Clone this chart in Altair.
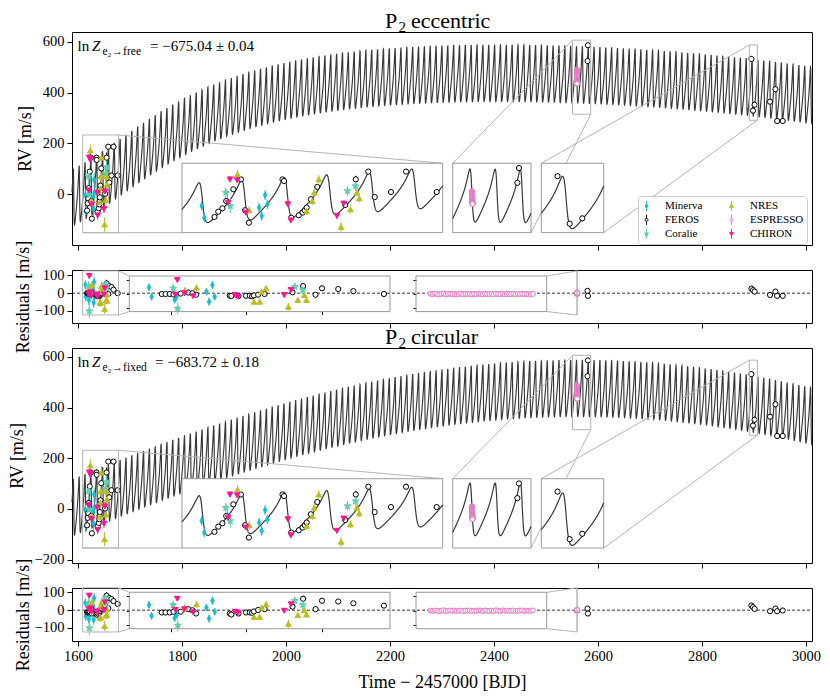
import numpy as np
import pandas as pd
import altair as alt

FONT = "Liberation Serif"

# ================= measurements (time = BJD - 2457000, m/s) =================
minerva_t = [1614.2, 1614.9, 1621.0, 1621.5, 1629.4, 1630.1, 1631.0, 1631.6]
minerva_rv = [-3, -68, 24, 8, -12, -58, 57, 6]
minerva_err = [26, 26, 28, 26, 26, 28, 28, 26]
minerva_res_ecc = [47, -19, -40, -20, 16, -54, 63, -19]
minerva_res_circ = [40, -35, -50, -30, 21, -54, 68, -7]

feros_t = [1617.6, 1618.6, 1619.7, 1620.7, 1622.6, 1624.6, 1625.7, 1626.7,
           1635.6, 1636.0, 1637.9, 1639.9, 1640.9, 1641.5, 1642.0, 1643.1,
           1644.8, 1652.2, 1655.0, 1658.3, 1660.0, 1664.3, 1668.3, 1676.4,
           2579.9, 2580.6, 2895.0, 2898.0, 2901.1, 2930.8, 2941.2, 2944.4, 2955.2]
feros_rv = [-64, -35, -16, 24, 89, 144, -27, -96,
            144, 135, -68, -55, -40, -27, -12, 34,
            102, 2, 144, 187, 46, 74, 187, 74,
            524, 586, 532, 329, 352, 364, 413, 288, 288]
feros_err = [6, 6, 6, 6, 6, 6, 6, 6,
             6, 6, 6, 6, 6, 6, 6, 6,
             6, 8, 20, 8, 10, 8, 8, 8,
             10, 10, 12, 12, 12, 10, 12, 10, 10]
feros_res_ecc = [0, 0, 0, -3, 3, 10, 5, -5,
                 -12, -14, -14, -12, -12, -16, -10, -5,
                 0, 12, 55, -5, 40, 35, 20, 0,
                 13, -15, 26, 17, 9, -10, 9, -15, -15]
feros_res_circ = [-12, -12, -12, -7, -7, 11, 3, -19,
                  -19, -26, -19, -12, -12, -14, -5, 5,
                  11, 28, 82, 11, 68, 63, 51, 35,
                  9, -19, 26, 17, 7, -6, 9, -6, -2]

coralie_t = [1620.6, 1621.8, 1652.8, 1654.9]
coralie_rv = [70, -3, 80, 107]
coralie_err = [28, 40, 28, 28]
coralie_res_ecc = [40, -101, 51, 28]
coralie_res_circ = [40, -101, 68, 40]

nres_t = [1623.7, 1626.8, 1642.0, 1643.5, 1644.0, 1645.2, 1651.1, 1653.6, 1655.3, 1655.9]
nres_rv = [172, -27, -31, 24, 71, 144, -119, -22, 71, 39]
nres_err = [24, 22, 22, 22, 22, 24, 28, 22, 22, 22]
nres_res_ecc = [25, 45, -54, -54, 16, 40, -89, -42, -7, -42]
nres_res_circ = [20, 44, -42, -42, 21, 44, -89, -30, 5, -26]

espresso_t = [2559.580, 2559.586, 2559.592, 2559.598, 2559.604, 2559.610, 2559.616, 2559.622, 2559.628, 2559.634,
              2559.640, 2559.646, 2559.652, 2559.658, 2559.664, 2559.670, 2559.676, 2559.682, 2559.688, 2559.694,
              2559.700, 2559.706, 2559.712, 2559.718, 2559.724, 2559.730, 2559.736, 2559.742, 2559.748, 2559.754,
              2559.760, 2559.766, 2559.772, 2559.778, 2559.784, 2559.790, 2559.796, 2559.802, 2559.808, 2559.814,
              2559.820, 2559.826, 2559.832, 2559.838, 2559.844, 2559.850, 2559.856, 2559.862]
espresso_rv = [489, 488, 487, 486, 485, 484, 483, 481, 480, 479,
               478, 477, 475, 474, 473, 472, 471, 469, 468, 467,
               466, 464, 463, 462, 461, 459, 458, 457, 456, 454,
               453, 452, 451, 449, 448, 447, 446, 444, 443, 442,
               441, 440, 439, 438, 437, 436, 436, 435]
espresso_res_ecc = [2, -1, 3, 0, -2, 1, 4, -3, 0, 2,
                    -1, 1, -4, 0, 3, -2, 1, 0, 2, -3,
                    1, -1, 3, 0, -2, 2, -1, 0, 1, -3,
                    2, 0, -1, 3, -2, 1, 0, -1, 2, -3,
                    1, 0, 2, -1, 1, -2, 0, 1]
espresso_res_circ = [1, -2, 2, 0, -3, 1, 3, -2, -1, 2,
                     0, 1, -3, -1, 2, -2, 1, 1, 2, -2,
                     0, -1, 2, 1, -3, 2, 0, -1, 1, -2,
                     3, 0, -2, 2, -1, 1, -1, 0, 2, -2,
                     0, 1, 2, -2, 1, -1, 0, 2]
ESPRESSO_ERR = 2.5

chiron_t = [1621.2, 1621.7, 1623.6, 1625.9, 1637.0, 1637.8, 1650.0, 1651.8]
chiron_rv = [15, 144, 139, -40, 6, -83, -58, 10]
chiron_err = [16, 16, 16, 16, 16, 16, 16, 16]
chiron_res_ecc = [-5, 98, 5, -15, -7, -19, -7, 28]
chiron_res_circ = [5, 82, 10, -10, -7, -14, 0, 44]

# ================= Keplerian model parameters =================
# inner planet
P1 = 11.252
K1 = 111.5
ECC1 = 0.50
OMEGA1_DEG = 70.0
T_MAX1 = 2558.7
# outer companion, eccentric solution
P2E, E2E, W2E, TP2E, K2E, C2E = 2220.0, 0.395, 3.5034, 3781.9, 264.50, 192.95
# outer companion, circular solution
P2C, C2C, A2C, B2C = 5239.0, -320.22, -775.78, 54.18


def solve_kepler(M, e):
    E = M + e * np.sin(M)
    for _ in range(60):
        E = E - (E - e * np.sin(E) - M) / (1.0 - e * np.cos(E))
    return E


def true_anom(t, P, e, tp):
    M = 2 * np.pi * (np.asarray(t, float) - tp) / P
    M = np.mod(M + np.pi, 2 * np.pi) - np.pi
    E = solve_kepler(M, e)
    return 2 * np.arctan2(np.sqrt(1 + e) * np.sin(E / 2), np.sqrt(1 - e) * np.cos(E / 2))


W1 = np.deg2rad(OMEGA1_DEG)
_Epk = 2 * np.arctan(np.sqrt((1 - ECC1) / (1 + ECC1)) * np.tan(-W1 / 2))
_Mpk = _Epk - ECC1 * np.sin(_Epk)
TP1 = T_MAX1 - _Mpk * P1 / (2 * np.pi)


def inner(t):
    nu = true_anom(t, P1, ECC1, TP1)
    return K1 * (np.cos(nu + W1) + ECC1 * np.cos(W1))


def model_ecc(t):
    nu = true_anom(t, P2E, E2E, TP2E)
    return C2E + K2E * np.cos(nu + W2E) + inner(t)


def model_circ(t):
    ph = 2 * np.pi * np.asarray(t, float) / P2C
    return C2C + A2C * np.cos(ph) + B2C * np.sin(ph) + inner(t)


# ================= styles =================
def star_path(r_in=0.42):
    pts = []
    for k in range(10):
        ang = -np.pi / 2 + k * np.pi / 5
        r = 1.0 if k % 2 == 0 else r_in
        pts.append((r * np.cos(ang), r * np.sin(ang)))
    return pts


def path_from(pts, s=1.0):
    return "M" + "L".join(f"{x * s:.3f},{y * s:.3f}" for x, y in pts) + "Z"


STAR = path_from(star_path())
DIAMOND = "M0,-1L0.55,0L0,1L-0.55,0Z"
BAR = "M0,-1L0,1"
CIRC_BAR = "M0,-1L0,-0.3M0,0.3L0,1M0.3,0A0.3,0.3,0,1,1,-0.3,0A0.3,0.3,0,1,1,0.3,0Z"
LEG = {
    "Minerva": BAR + "M0,-0.5L0.28,0L0,0.5L-0.28,0Z",
    "FEROS": CIRC_BAR,
    "Coralie": BAR + path_from(star_path(), 0.45),
    "NRES": BAR + "M0,-0.42L0.38,0.28L-0.38,0.28Z",
    "ESPRESSO": CIRC_BAR,
    "CHIRON": BAR + "M0,0.42L0.38,-0.28L-0.38,-0.28Z",
}
STYLE = {
    "Minerva": dict(color="#17becf", fill="#17becf", shape=DIAMOND, size=40),
    "FEROS": dict(color="#000000", fill="#ffffff", shape="circle", size=27),
    "Coralie": dict(color="#5fcfb0", fill="#5fcfb0", shape=STAR, size=50),
    "NRES": dict(color="#bcbd22", fill="#bcbd22", shape="triangle-up", size=32),
    "ESPRESSO": dict(color="#e377c2", fill="#ffffff", shape="circle", size=24),
    "CHIRON": dict(color="#ff1493", fill="#ff1493", shape="triangle-down", size=32),
}
DRAW_ORDER = ["Minerva", "FEROS", "Coralie", "NRES", "ESPRESSO", "CHIRON"]

SOURCES = {
    "Minerva": (minerva_t, minerva_rv, minerva_err, minerva_res_ecc, minerva_res_circ),
    "FEROS": (feros_t, feros_rv, feros_err, feros_res_ecc, feros_res_circ),
    "Coralie": (coralie_t, coralie_rv, coralie_err, coralie_res_ecc, coralie_res_circ),
    "NRES": (nres_t, nres_rv, nres_err, nres_res_ecc, nres_res_circ),
    "ESPRESSO": (espresso_t, espresso_rv, [ESPRESSO_ERR] * len(espresso_t), espresso_res_ecc, espresso_res_circ),
    "CHIRON": (chiron_t, chiron_rv, chiron_err, chiron_res_ecc, chiron_res_circ),
}
frames = []
for name in DRAW_ORDER:
    t, rv, er, re, rc = SOURCES[name]
    d = pd.DataFrame({"t": t, "rv": rv, "err": er, "res_e": re, "res_c": rc})
    d["inst"] = name
    for k, v in STYLE[name].items():
        d[k] = v
    frames.append(d)
OBS = pd.concat(frames, ignore_index=True)

# ================= geometry =================
W = 740
X_DOM = (1588.5, 3011.5)
XTICKS = [1600, 1800, 2000, 2200, 2400, 2600, 2800, 3000]
CURVE = "#383838"
BOXC = "#b4b4b4"
FRAMEC = "#999999"

RV1 = dict(dom=(-199.4, 638.0), H=213)
RV2 = dict(dom=(-213.0, 635.0), H=215)
RES1 = dict(dom=(-168.5, 131.0), H=53)
RES2 = dict(dom=(-174.0, 125.0), H=53)

RV1_INSETS = [
    dict(box=(1609.0, 1678.0, -151.0, 233.0), place=(1800.0, 2301.4, -150.9, 121.9), links=(("ur", "ur"), ("ll", "ll"))),
    dict(box=(2551.0, 2586.0, 315.0, 606.0), place=(2320.6, 2471.2, -150.9, 121.9), links=(("ul", "ul"), ("lr", "lr"))),
    dict(box=(2891.0, 2906.4, 291.0, 587.0), place=(2491.0, 2611.0, -150.9, 121.9), links=(("ul", "ul"), ("lr", "lr"))),
]
RV2_INSETS = [
    dict(box=(1609.0, 1678.0, -154.0, 231.6), place=(1800.0, 2301.4, -154.0, 119.4), links=(("ur", "ur"), ("ll", "ll"))),
    dict(box=(2551.0, 2586.0, 313.0, 606.0), place=(2320.6, 2471.2, -154.0, 119.4), links=(("ul", "ul"), ("lr", "lr"))),
    dict(box=(2891.0, 2906.4, 291.0, 587.0), place=(2491.0, 2611.0, -154.0, 119.4), links=(("ul", "ul"), ("lr", "lr"))),
]
RES1_INSETS = [
    dict(box=(1609.0, 1678.0, -123.0, 126.0), place=(1698.7, 2200.0, -104.0, 97.1), links=(("ur", "ul"), ("lr", "ll")), xticks=[1620, 1640, 1660]),
    dict(box=(2559.54, 2559.90, -123.0, 126.0), place=(2250.0, 2501.4, -104.0, 97.1), links=(("ur", "ur"), ("lr", "lr")), xticks=None),
]
RES2_INSETS = [
    dict(box=(1609.0, 1678.0, -123.0, 126.0), place=(1698.7, 2200.0, -104.6, 100.7), links=(("ur", "ul"), ("lr", "ll")), xticks=[1620, 1640, 1660]),
    dict(box=(2559.54, 2559.90, -123.0, 126.0), place=(2250.0, 2501.4, -104.6, 100.7), links=(("ur", "ur"), ("lr", "lr")), xticks=None),
]

ONE = pd.DataFrame({"a": [0]})


def sc(dom, rng=None):
    kw = dict(domain=[float(dom[0]), float(dom[1])], nice=False, zero=False)
    if rng is not None:
        kw["range"] = [float(rng[0]), float(rng[1])]
    return alt.Scale(**kw)


def px_x(v):
    return (v - X_DOM[0]) / (X_DOM[1] - X_DOM[0]) * W


def px_y(v, P):
    d0, d1 = P["dom"]
    return (d1 - v) / (d1 - d0) * P["H"]


def corner(r, c):
    x = r[0] if c[1] == "l" else r[1]
    y = r[3] if c[0] == "u" else r[2]
    return x, y


def obs_layers(df, field, xs, ys, xaxis=None, yaxis=None):
    d = pd.DataFrame({"t": df["t"], "v": df[field], "lo": df[field] - df["err"], "hi": df[field] + df["err"],
                      "color": df["color"], "fill": df["fill"], "shape": df["shape"], "size": df["size"]})
    bars = alt.Chart(d).mark_rule(strokeWidth=1).encode(
        x=alt.X("t:Q", scale=xs, axis=xaxis), y=alt.Y("lo:Q", scale=ys, axis=yaxis), y2="hi:Q",
        color=alt.Color("color:N", scale=None))
    pts = alt.Chart(d).mark_point(opacity=1, strokeWidth=1).encode(
        x=alt.X("t:Q", scale=xs, axis=None), y=alt.Y("v:Q", scale=ys, axis=None),
        shape=alt.Shape("shape:N", scale=None), fill=alt.Fill("fill:N", scale=None),
        stroke=alt.Stroke("color:N", scale=None), size=alt.Size("size:Q", scale=None))
    return [bars, pts]


def rect_layer(rects, xs, ys, **mk):
    d = pd.DataFrame(rects, columns=["x0", "x1", "y0", "y1"])
    return alt.Chart(d).mark_rect(**mk).encode(
        x=alt.X("x0:Q", scale=xs, axis=None), x2="x1:Q", y=alt.Y("y0:Q", scale=ys, axis=None), y2="y1:Q")


def link_layer(insets, xs, ys):
    rows = []
    for ins in insets:
        for cb, ci in ins["links"]:
            bx, by = corner(ins["box"], cb)
            ix, iy = corner(ins["place"], ci)
            rows.append((bx, by, ix, iy))
    d = pd.DataFrame(rows, columns=["x0", "y0", "x1", "y1"])
    return alt.Chart(d).mark_rule(color=BOXC, strokeWidth=1).encode(
        x=alt.X("x0:Q", scale=xs, axis=None), y=alt.Y("y0:Q", scale=ys, axis=None), x2="x1:Q", y2="y1:Q")


def text_layer(txt, x, y, size=15, style="normal", align="left"):
    return alt.Chart(ONE).mark_text(text=txt, font=FONT, fontSize=size, fontStyle=style, align=align,
                                    baseline="alphabetic", color="black").encode(x=alt.value(x), y=alt.value(y))


def rv_panel(P, insets, model, sub, value, value_x, title_word, legend):
    xs, ys = sc(X_DOM), sc(P["dom"])
    tg = np.arange(X_DOM[0], X_DOM[1], 0.2)
    mdf = pd.DataFrame({"t": tg.round(2), "v": model(tg).round(1)})
    L = [alt.Chart(mdf).mark_line(color=CURVE, strokeWidth=1.15).encode(
        x=alt.X("t:Q", scale=xs, axis=alt.Axis(orient="bottom", values=XTICKS, labels=False, title=None)),
        y=alt.Y("v:Q", scale=ys, axis=alt.Axis(orient="left", values=[-200, 0, 200, 400, 600], format="d",
                                               title="RV [m/s]", titlePadding=8)))]
    L += obs_layers(OBS, "rv", xs, ys)
    L.append(rect_layer([i["box"] for i in insets], xs, ys, fillOpacity=0, stroke=BOXC, strokeWidth=1))
    L.append(link_layer(insets, xs, ys))
    L.append(rect_layer([i["place"] for i in insets], xs, ys, fill="white", stroke=FRAMEC, strokeWidth=1))
    for ins in insets:
        bx0, bx1, by0, by1 = ins["box"]
        qx0, qx1, qy0, qy1 = ins["place"]
        ixs = sc((bx0, bx1), (px_x(qx0), px_x(qx1)))
        iys = sc((by0, by1), (px_y(qy0, P), px_y(qy1, P)))
        ti = np.linspace(bx0, bx1, 1400)
        idf = pd.DataFrame({"t": ti.round(3), "v": model(ti).round(2)})
        L.append(alt.Chart(idf).mark_line(color=CURVE, strokeWidth=1.2).encode(
            x=alt.X("t:Q", scale=ixs, axis=None), y=alt.Y("v:Q", scale=iys, axis=None)))
        sel = OBS[(OBS["t"] >= bx0) & (OBS["t"] <= bx1)]
        L += obs_layers(sel, "rv", ixs, iys)
    # annotation  ln Z = ...
    L.append(text_layer("ln", 5.5, 19))
    L.append(text_layer("Z", 20, 19, style="italic"))
    L.append(text_layer(sub, 30.5, 23, size=11.5))
    L.append(text_layer(value, value_x, 19))
    # title
    L.append(text_layer("P", 313, -4.5, size=22))
    L.append(text_layer("2", 326.5, 0, size=15))
    L.append(text_layer(title_word, 339, -4.5, size=22))
    if legend:
        lg = alt.Legend(orient="none", legendX=566, legendY=164, columns=2, title=None,
                        labelFont=FONT, labelFontSize=11, labelColor="black", symbolSize=100,
                        symbolStrokeWidth=1, symbolOpacity=1, padding=3, rowPadding=0, columnPadding=23,
                        labelOffset=13, clipHeight=13.5, strokeColor="#cccccc", fillColor="white",
                        cornerRadius=3)
        ldf = pd.DataFrame({"inst": DRAW_ORDER})
        L.append(alt.Chart(ldf).mark_point(opacity=1, size=4).encode(
            x=alt.value(660), y=alt.value(190),
            shape=alt.Shape("inst:N", scale=alt.Scale(domain=DRAW_ORDER, range=[LEG[n] for n in DRAW_ORDER]), legend=lg),
            stroke=alt.Stroke("inst:N", scale=alt.Scale(domain=DRAW_ORDER, range=[STYLE[n]["color"] for n in DRAW_ORDER]), legend=lg),
            fill=alt.Fill("inst:N", scale=alt.Scale(domain=DRAW_ORDER, range=[STYLE[n]["fill"] for n in DRAW_ORDER]), legend=lg)))
    return alt.layer(*L).resolve_scale(x="independent", y="independent").properties(width=W, height=P["H"])


def res_panel(P, insets, field, bottom):
    xs, ys = sc(X_DOM), sc(P["dom"])
    if bottom:
        xax = alt.Axis(orient="bottom", values=XTICKS, format="d", title="Time \u2212 2457000 [BJD]", titlePadding=11)
    else:
        xax = alt.Axis(orient="bottom", values=XTICKS, labels=False, title=None)
    L = [alt.Chart(pd.DataFrame({"z": [0.0]})).mark_rule(color="black", strokeWidth=0.8, strokeDash=[3, 2]).encode(
        y=alt.Y("z:Q", scale=ys, axis=alt.Axis(orient="left", values=[-100, 0, 100], format="d",
                                               title="Residuals [m/s]", titlePadding=2)),
        x=alt.value(0), x2=alt.value(W))]
    L += obs_layers(OBS, field, xs, ys, xaxis=xax)
    L.append(rect_layer([i["box"] for i in insets], xs, ys, fillOpacity=0, stroke=BOXC, strokeWidth=1))
    L.append(link_layer(insets, xs, ys))
    L.append(rect_layer([i["place"] for i in insets], xs, ys, fillOpacity=0, stroke=FRAMEC, strokeWidth=1))
    for ins in insets:
        bx0, bx1, by0, by1 = ins["box"]
        qx0, qx1, qy0, qy1 = ins["place"]
        x0p, x1p = px_x(qx0), px_x(qx1)
        y0p, y1p = px_y(qy0, P), px_y(qy1, P)
        ixs = sc((bx0, bx1), (x0p, x1p))
        iys = sc((by0, by1), (y0p, y1p))
        if ins["xticks"]:
            ixa = alt.Axis(orient="bottom", offset=float(y0p - P["H"]), values=ins["xticks"], labels=False,
                           title=None, tickSize=3)
        else:
            ixa = None
        iya = alt.Axis(orient="left", offset=float(-x0p), values=[-100, 0, 100], labels=False, title=None, tickSize=3)
        sel = OBS[(OBS["t"] >= bx0) & (OBS["t"] <= bx1)]
        L += obs_layers(sel, field, ixs, iys, xaxis=ixa, yaxis=iya)
    return alt.layer(*L).resolve_scale(x="independent", y="independent").properties(width=W, height=P["H"])


p1 = rv_panel(RV1, RV1_INSETS, model_ecc, "e\u2082\u2192free", "= \u2212675.04 \u00b1 0.04", 78, "eccentric", True)
r1 = res_panel(RES1, RES1_INSETS, "res_e", False)
p2 = rv_panel(RV2, RV2_INSETS, model_circ, "e\u2082\u2192fixed", "= \u2212683.72 \u00b1 0.18", 83, "circular", False)
r2 = res_panel(RES2, RES2_INSETS, "res_c", True)

chart = alt.vconcat(p1, r1, p2, r2, spacing=25, bounds="flush").properties(
    padding={"left": -1, "top": 1, "right": 0, "bottom": 0}).configure_view(
    stroke="black", strokeWidth=1).configure_axis(
    labelFont=FONT, titleFont=FONT, labelFontSize=14.5, titleFontSize=18, titleFontWeight="normal",
    labelColor="black", titleColor="black", tickColor="black", tickWidth=1, tickSize=5, labelPadding=3,
    domain=False, grid=False)

chart.save("out.html", embed_options={"renderer": "svg", "actions": False})
